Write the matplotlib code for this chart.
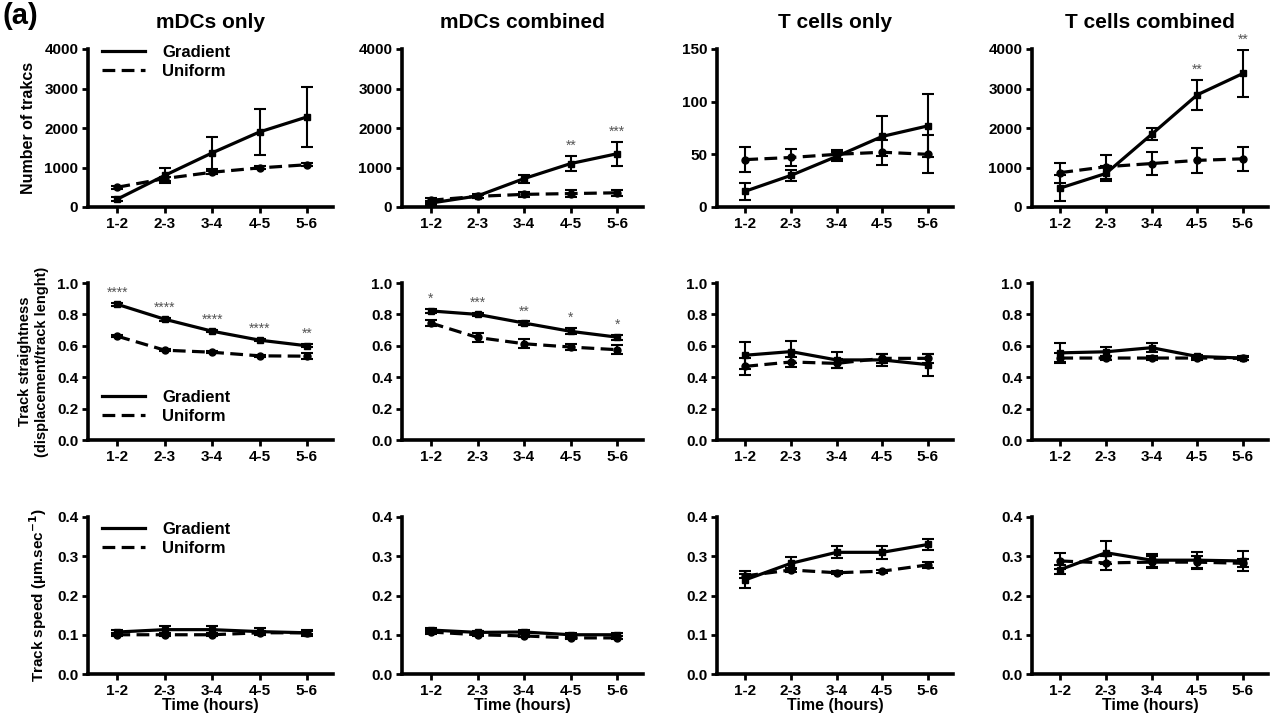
import matplotlib
matplotlib.use("Agg")
import matplotlib.pyplot as plt
from matplotlib.lines import Line2D
import numpy as np

plt.rcParams['font.family'] = ['Liberation Sans', 'DejaVu Sans']
plt.rcParams['font.weight'] = 'bold'

time_labels = ["1-2", "2-3", "3-4", "4-5", "5-6"]
col_titles = ["mDCs only", "mDCs combined", "T cells only", "T cells combined"]
row_ylabels = ["Number of trakcs", "Track straightness\n(displacement/track lenght)",
               "Track speed (\u00b5m.sec$^{\\mathbf{-1}}$)"]

# ---- Row 0: number of tracks ----
tracks_grad = [[200, 800, 1370, 1900, 2280],
               [100, 280, 720, 1100, 1350],
               [15, 30, 48, 67, 77],
               [480, 850, 1840, 2840, 3380]]
tracks_grad_err = [[60, 200, 400, 590, 770],
                   [60, 50, 100, 200, 300],
                   [8, 5, 4, 19, 30],
                   [320, 200, 150, 380, 600]]
tracks_unif = [[500, 720, 880, 990, 1070],
               [170, 270, 320, 340, 360],
               [45, 47, 50, 52, 50],
               [870, 1020, 1100, 1180, 1220]]
tracks_unif_err = [[40, 50, 40, 40, 40],
                   [60, 40, 60, 80, 80],
                   [12, 8, 4, 12, 18],
                   [250, 300, 300, 320, 300]]

# ---- Row 1: straightness ----
straight_grad = [[0.864, 0.769, 0.693, 0.636, 0.600],
                 [0.822, 0.800, 0.745, 0.692, 0.655],
                 [0.540, 0.563, 0.510, 0.510, 0.480],
                 [0.555, 0.562, 0.588, 0.532, 0.522]]
straight_grad_err = [[0.008, 0.008, 0.008, 0.008, 0.010],
                     [0.010, 0.010, 0.010, 0.020, 0.015],
                     [0.085, 0.070, 0.050, 0.040, 0.070],
                     [0.060, 0.030, 0.030, 0.010, 0.010]]
straight_unif = [[0.661, 0.572, 0.559, 0.536, 0.534],
                 [0.745, 0.653, 0.613, 0.592, 0.575],
                 [0.469, 0.497, 0.488, 0.520, 0.520],
                 [0.522, 0.522, 0.522, 0.522, 0.520]]
straight_unif_err = [[0.008, 0.008, 0.008, 0.008, 0.020],
                     [0.020, 0.030, 0.030, 0.020, 0.030],
                     [0.056, 0.030, 0.030, 0.030, 0.030],
                     [0.030, 0.010, 0.010, 0.010, 0.008]]

# ---- Row 2: speed ----
speed_grad = [[0.107, 0.113, 0.113, 0.108, 0.105],
              [0.112, 0.106, 0.107, 0.100, 0.100],
              [0.240, 0.282, 0.310, 0.310, 0.330],
              [0.266, 0.309, 0.290, 0.290, 0.288]]
speed_grad_err = [[0.006, 0.010, 0.010, 0.008, 0.007],
                  [0.004, 0.004, 0.004, 0.004, 0.004],
                  [0.022, 0.015, 0.015, 0.017, 0.015],
                  [0.012, 0.030, 0.017, 0.022, 0.025]]
speed_unif = [[0.100, 0.100, 0.100, 0.105, 0.105],
              [0.107, 0.100, 0.097, 0.092, 0.092],
              [0.250, 0.265, 0.258, 0.262, 0.278],
              [0.288, 0.283, 0.285, 0.285, 0.282]]
speed_unif_err = [[0.004, 0.004, 0.004, 0.004, 0.004],
                  [0.004, 0.004, 0.004, 0.004, 0.004],
                  [0.005, 0.005, 0.004, 0.004, 0.008],
                  [0.020, 0.017, 0.015, 0.015, 0.010]]

# significance stars (row, col) -> list per time point
stars = {
    (0, 1): ["", "", "", "**", "***"],
    (0, 3): ["", "", "", "**", "**"],
    (1, 0): ["****", "****", "****", "****", "**"],
    (1, 1): ["*", "***", "**", "*", "*"],
}

row_data = [(tracks_grad, tracks_grad_err, tracks_unif, tracks_unif_err),
            (straight_grad, straight_grad_err, straight_unif, straight_unif_err),
            (speed_grad, speed_grad_err, speed_unif, speed_unif_err)]

row_ylims = [[(0, 4000), (0, 4000), (0, 150), (0, 4000)],
             [(0, 1.0)] * 4,
             [(0, 0.4)] * 4]
row_yticks = [[[0, 1000, 2000, 3000, 4000]] * 2 + [[0, 50, 100, 150]] + [[0, 1000, 2000, 3000, 4000]],
              [[0.0, 0.2, 0.4, 0.6, 0.8, 1.0]] * 4,
              [[0.0, 0.1, 0.2, 0.3, 0.4]] * 4]

W, H = 1275, 720
fig = plt.figure(figsize=(W / 100, H / 100), dpi=100)

col_px = [(88, 245), (402, 241), (717, 236), (1032, 236)]
row_px = [(49, 207), (283, 440), (517, 674)]

x = np.arange(1, 6)
lw = 2.3
ylabel_sizes = [11.5, 10.5, 11]
legend_pos = [('upper left', (0.03, 1.07)),
              ('lower left', (0.03, 0.06)),
              ('upper left', (0.03, 1.01))]

for r in range(3):
    g, ge, u, ue = row_data[r]
    for c in range(4):
        left, width = col_px[c]
        top, bot = row_px[r]
        ax = fig.add_axes([left / W, 1 - bot / H, width / W, (bot - top) / H])
        ax.errorbar(x, u[c], yerr=ue[c], color='black', lw=lw, ls=(0, (4, 2)),
                    marker='o', ms=5, capsize=4.5, elinewidth=1.5, capthick=1.5,
                    label='Uniform')
        ax.errorbar(x, g[c], yerr=ge[c], color='black', lw=lw, ls='-',
                    marker='s', ms=5, capsize=4.5, elinewidth=1.5, capthick=1.5,
                    label='Gradient')
        ax.set_xlim(0.38, 5.55)
        ax.set_ylim(*row_ylims[r][c])
        ax.set_yticks(row_yticks[r][c])
        if r >= 1:
            ax.set_yticklabels([f"{v:.1f}" for v in row_yticks[r][c]])
        ax.set_xticks(x)
        ax.set_xticklabels(time_labels)
        for s in ['top', 'right']:
            ax.spines[s].set_visible(False)
        for s in ['left', 'bottom']:
            ax.spines[s].set_linewidth(2.6)
        ax.tick_params(axis='both', width=2.0, length=4, labelsize=11, pad=3)
        for lab in ax.get_xticklabels() + ax.get_yticklabels():
            lab.set_fontweight('bold')
        if r == 0:
            ax.set_title(col_titles[c], fontsize=15, fontweight='bold', pad=15)
        if r == 2:
            ax.set_xlabel("Time (hours)", fontsize=11.5, fontweight='bold', labelpad=0)
        if c == 0:
            ax.set_ylabel(row_ylabels[r], fontsize=ylabel_sizes[r], fontweight='bold', labelpad=6)
            hl = [Line2D([], [], color='black', lw=lw, ls='-'),
                  Line2D([], [], color='black', lw=lw, ls=(0, (4, 2)))]
            loc, anchor = legend_pos[r]
            leg = ax.legend(hl, ['Gradient', 'Uniform'], loc=loc, bbox_to_anchor=anchor,
                            frameon=False, handlelength=2.6, fontsize=12,
                            labelspacing=0.25, handletextpad=1.0, borderaxespad=0)
            for t in leg.get_texts():
                t.set_fontweight('bold')
        if (r, c) in stars:
            yr = row_ylims[r][c][1] - row_ylims[r][c][0]
            for i, s in enumerate(stars[(r, c)]):
                if s:
                    ytop = g[c][i] + ge[c][i]
                    ax.text(x[i], ytop + 0.02 * yr, s, ha='center', va='bottom',
                            fontsize=10, color='#555555', fontweight='normal')

fig.text(0.002, 0.997, "(a)", fontsize=21, fontweight='bold', va='top', ha='left')

fig.savefig("out.png", dpi=100)
